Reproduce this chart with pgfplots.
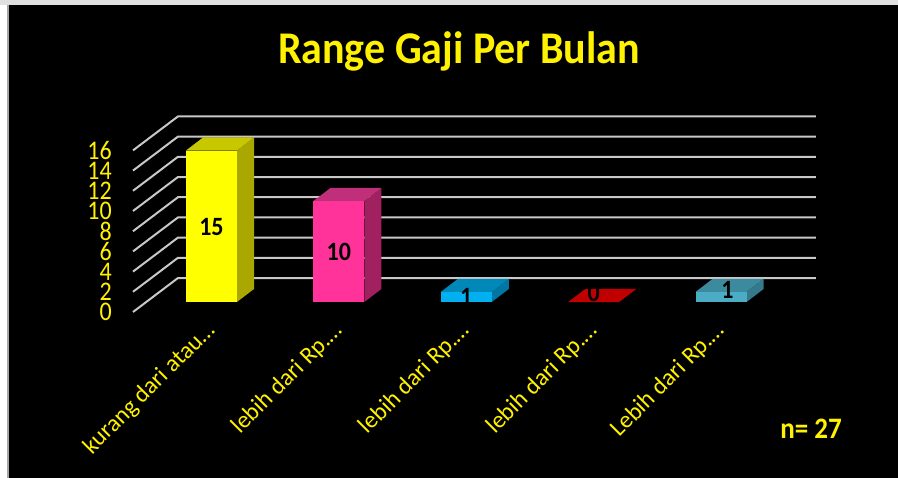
\documentclass[border=0pt]{standalone}
\usepackage{fontspec}
\setmainfont{Carlito}
\usepackage{pgfplots}
\pgfplotsset{compat=1.18}
\definecolor{gridc}{HTML}{C8C8C8}
\definecolor{ylwF}{HTML}{FFFF00}
\definecolor{ylwS}{HTML}{A8A800}
\definecolor{ylwT}{HTML}{C8C800}
\definecolor{pnkF}{HTML}{FF3399}
\definecolor{pnkS}{HTML}{A02060}
\definecolor{pnkT}{HTML}{C0307A}
\definecolor{bluF}{HTML}{00B0F0}
\definecolor{bluS}{HTML}{0076A4}
\definecolor{bluT}{HTML}{0088B8}
\definecolor{redT}{HTML}{C00000}
\definecolor{telF}{HTML}{4BACC6}
\definecolor{telS}{HTML}{347A8C}
\definecolor{telT}{HTML}{3C8A9E}
\begin{document}
\begin{tikzpicture}
\fill[white] (0,0) rectangle (898pt,-478pt);
\fill[black!12] (0,0) rectangle (898pt,-5pt);
\fill[black!35] (7pt,-5pt) rectangle (8.5pt,-478pt);
\fill[black] (8.5pt,-5pt) rectangle (898pt,-478pt);
\node[anchor=base, text=yellow, inner sep=0pt, yscale=1.08, font=\fontsize{42}{48}\selectfont\bfseries] at (459pt,-64pt) {Range Gaji Per Bulan};
\node[anchor=base east, text=yellow, inner sep=0pt, yscale=1.1, font=\fontsize{27}{32}\selectfont\bfseries] at (842pt,-439pt) {n= 27};
\begin{axis}[
  at={(133pt,-312pt)}, anchor=south west,
  x=127.4pt, y=10.1pt,
  xmin=-0.616, xmax=4.745, ymin=-0.99, ymax=18.376,
  clip=false,
  axis line style={draw=none}, tick style={draw=none},
  major tick length=0pt,
  /pgf/number format/assume math mode=true,
  ytick={-0.99,1.01,3.01,5.01,7.01,9.01,11.01,13.01,15.01},
  yticklabels={0,2,4,6,8,10,12,14,16},
  yticklabel style={anchor=east, inner sep=0pt, text=yellow, yscale=1.12, font=\fontsize{24}{26}\selectfont},
  yticklabel shift=21pt,
  xtick={0,1,2,3,4},
  xticklabels={kurang dari atau…, lebih dari Rp.…, lebih dari Rp.…, lebih dari Rp.…, Lebih dari Rp.…},
  xticklabel style={rotate=45, anchor=east, inner sep=0pt, text=yellow, font=\fontsize{24}{26}\selectfont},
  xticklabel shift=15pt,
]
% grid: left wall diagonals + back wall
\addplot[gridc, line width=2pt] coordinates {(-0.616,-0.99) (-0.263,2.376) (4.745,2.376)};
\addplot[gridc, line width=2pt] coordinates {(-0.616,1.01) (-0.263,4.376) (4.745,4.376)};
\addplot[gridc, line width=2pt] coordinates {(-0.616,3.01) (-0.263,6.376) (4.745,6.376)};
\addplot[gridc, line width=2pt] coordinates {(-0.616,5.01) (-0.263,8.376) (4.745,8.376)};
\addplot[gridc, line width=2pt] coordinates {(-0.616,7.01) (-0.263,10.376) (4.745,10.376)};
\addplot[gridc, line width=2pt] coordinates {(-0.616,9.01) (-0.263,12.376) (4.745,12.376)};
\addplot[gridc, line width=2pt] coordinates {(-0.616,11.01) (-0.263,14.376) (4.745,14.376)};
\addplot[gridc, line width=2pt] coordinates {(-0.616,13.01) (-0.263,16.376) (4.745,16.376)};
\addplot[gridc, line width=2pt] coordinates {(-0.616,15.01) (-0.263,18.376) (4.745,18.376)};
% bar 1: 15
\addplot[fill=ylwS, draw=none] coordinates {(0.2,0) (0.334,1.29) (0.334,16.29) (0.2,15)} -- cycle;
\addplot[fill=ylwT, draw=none] coordinates {(-0.2,15) (-0.066,16.29) (0.334,16.29) (0.2,15)} -- cycle;
\addplot[ybar, bar width=0.4, bar shift=0pt, fill=ylwF, draw=none] coordinates {(0,15)};
% bar 2: 10
\addplot[fill=pnkS, draw=none] coordinates {(1.2,0) (1.334,1.29) (1.334,11.29) (1.2,10)} -- cycle;
\addplot[fill=pnkT, draw=none] coordinates {(0.8,10) (0.934,11.29) (1.334,11.29) (1.2,10)} -- cycle;
\addplot[ybar, bar width=0.4, bar shift=0pt, fill=pnkF, draw=none] coordinates {(1,10)};
% bar 3: 1
\addplot[fill=bluS, draw=none] coordinates {(2.2,0) (2.334,1.29) (2.334,2.29) (2.2,1)} -- cycle;
\addplot[fill=bluT, draw=none] coordinates {(1.8,1) (1.934,2.29) (2.334,2.29) (2.2,1)} -- cycle;
\addplot[ybar, bar width=0.4, bar shift=0pt, fill=bluF, draw=none] coordinates {(2,1)};
% bar 4: 0
\addplot[fill=redT, draw=none] coordinates {(2.8,0) (2.934,1.29) (3.334,1.29) (3.2,0)} -- cycle;
% bar 5: 1
\addplot[fill=telS, draw=none] coordinates {(4.2,0) (4.334,1.29) (4.334,2.29) (4.2,1)} -- cycle;
\addplot[fill=telT, draw=none] coordinates {(3.8,1) (3.934,2.29) (4.334,2.29) (4.2,1)} -- cycle;
\addplot[ybar, bar width=0.4, bar shift=0pt, fill=telF, draw=none] coordinates {(4,1)};
% value labels
\addplot[only marks, mark=none, point meta=explicit symbolic,
  nodes near coords, nodes near coords align=center,
  every node near coord/.style={text=black, inner sep=0pt, yscale=1.1, font=\fontsize{24}{26}\selectfont\bfseries}]
  coordinates {(0,7.4)[15] (1,4.95)[10] (2,0.5)[1] (3,0.85)[0] (4.05,1.2)[1]};
\end{axis}
\end{tikzpicture}
\end{document}
